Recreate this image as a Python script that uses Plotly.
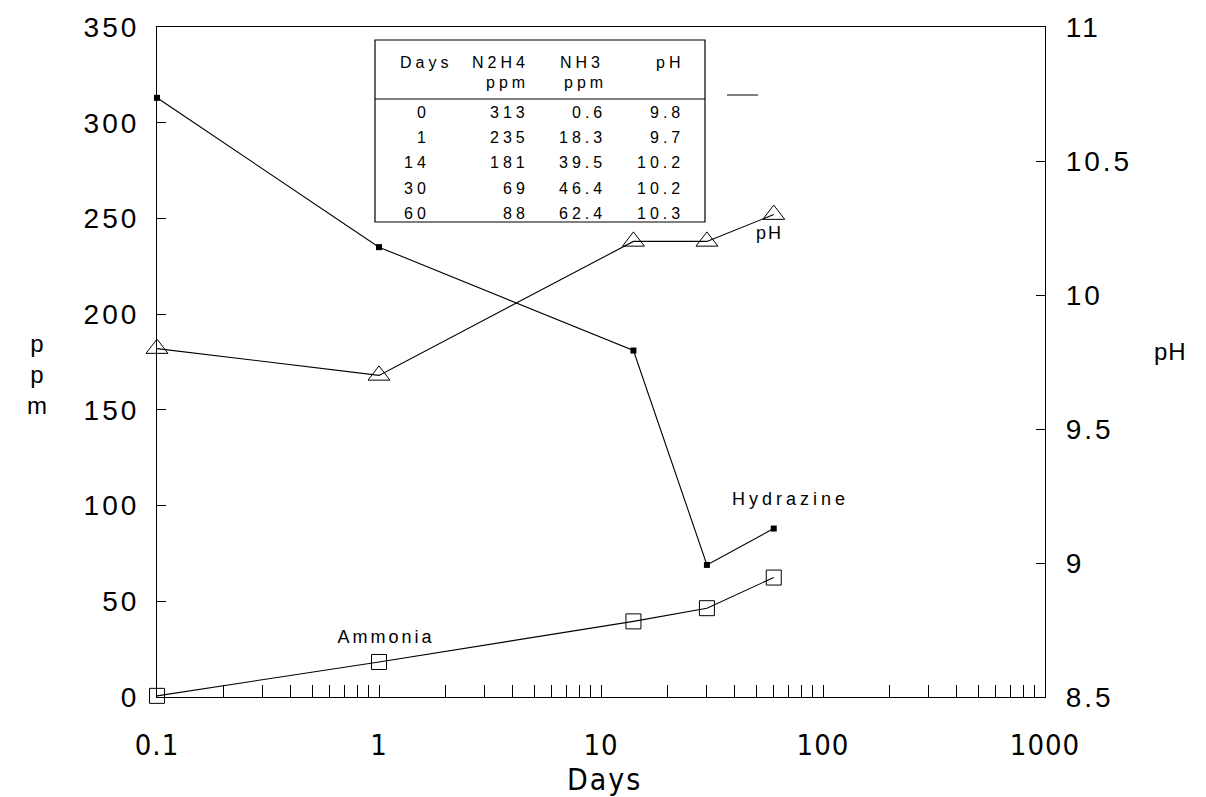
import json
import plotly.graph_objects as go

# ---------------- data ----------------
days_label = ["0", "1", "14", "30", "60"]
days_plot = [0.1, 1, 14, 30, 60]          # day 0 is drawn at 0.1 on the log axis
hydrazine_ppm = [313, 235, 181, 69, 88]
ammonia_ppm = [0.6, 18.3, 39.5, 46.4, 62.4]
ph_values = [9.8, 9.7, 10.2, 10.2, 10.3]

hydrazine_txt = ["313", "235", "181", "69", "88"]
ammonia_txt = ["0.6", "18.3", "39.5", "46.4", "62.4"]
ph_txt = ["9.8", "9.7", "10.2", "10.2", "10.3"]

x_major = [0.1, 1, 10, 100, 1000]
x_major_labels = ["0.1", "1", "10", "100", "1000"]
y_left_ticks = [0, 50, 100, 150, 200, 250, 300, 350]
y_left_labels = ["0", "50", "100", "150", "200", "250", "300", "350"]
y_right_ticks = [8.5, 9, 9.5, 10, 10.5, 11]
y_right_labels = ["8.5", "9", "9.5", "10", "10.5", "11"]

# ---------------- layout geometry ----------------
W, H = 1206, 797
L, R, T, B = 157, 1045, 27, 697


def px(x, y):
    return (x - L) / (R - L), (B - y) / (B - T)


# log ticks: every integer multiple inside each decade
tickvals, ticktext = [], []
for k in range(-1, 3):
    for m in range(1, 10):
        v = round(m * 10 ** k, 6)
        tickvals.append(v)
        ticktext.append("")
tickvals.append(1000)
ticktext.append("")
for v, lab in zip(x_major, x_major_labels):
    for i, tv in enumerate(tickvals):
        if abs(tv - v) < 1e-9:
            ticktext[i] = lab

SANS = "Liberation Sans, Arial, Helvetica, sans-serif"
NARROW = "Liberation Sans Narrow, Arial Narrow, DejaVu Sans Condensed, sans-serif"

fig = go.Figure()
fig.add_trace(go.Scatter(
    x=days_plot, y=hydrazine_ppm, mode="lines+markers", name="Hydrazine",
    line=dict(color="black", width=1.1),
    marker=dict(symbol="square", size=6, color="black"),
    cliponaxis=False))
fig.add_trace(go.Scatter(
    x=days_plot, y=ammonia_ppm, mode="lines+markers", name="Ammonia",
    line=dict(color="black", width=1.1),
    marker=dict(symbol="square-open", size=15, color="black", line=dict(width=1, color="black")),
    cliponaxis=False))
fig.add_trace(go.Scatter(
    x=days_plot, y=ph_values, mode="lines+markers", name="pH", yaxis="y2",
    line=dict(color="black", width=1.1),
    marker=dict(symbol="triangle-up-open", size=19, color="black", line=dict(width=1, color="black")),
    cliponaxis=False))

annotations = []
css_rules = []


def add_text(text, x, y, size, xanchor="center", ls=0, font=SANS):
    idx = len(annotations)
    # compensate trailing letter-spacing for right-anchored text
    xx = x + (ls if xanchor == "right" else 0)
    if xanchor == "center":
        xx = x + ls / 2
    ax, ay = px(xx, y)
    annotations.append(dict(
        text=text, x=ax, y=ay, xref="paper", yref="paper",
        xanchor=xanchor, yanchor="middle", align=xanchor if xanchor != "center" else "center",
        showarrow=False, font=dict(family=font, size=size, color="black")))
    if ls:
        css_rules.append('g.annotation[data-index="%d"] text{letter-spacing:%spx}' % (idx, ls))


# table
TS, TLS = 16, 4
add_text("Days", 398, 62, TS, "left", TLS)
add_text("N2H4", 527, 62, TS, "right", TLS)
add_text("NH3", 602, 62, TS, "right", TLS)
add_text("pH", 682, 62, TS, "right", TLS)
add_text("ppm", 527, 83, TS, "right", TLS)
add_text("ppm", 605, 83, TS, "right", TLS)
row_y = [112, 137, 162, 188, 213]
for i in range(len(days_label)):
    add_text(days_label[i], 428, row_y[i], TS, "right", TLS)
    add_text(hydrazine_txt[i], 527, row_y[i], TS, "right", TLS)
    add_text(ammonia_txt[i], 604, row_y[i], TS, "right", TLS)
    add_text(ph_txt[i], 682, row_y[i], TS, "right", TLS)

# series labels
add_text("Ammonia", 385, 637, 18, "center", 3)
add_text("Hydrazine", 788, 499, 18, "center", 4)
add_text("pH", 768, 233, 18, "center", 2)

# axis titles
add_text("p<br>p<br>m", 37, 374, 24, "center", 0)
add_text("pH", 1170, 352, 24, "center", 1)
add_text("Days", 603, 779, 30, "center", 2, NARROW)

shapes = []
x0, y0 = px(375, 40)
x1, y1 = px(705, 222)
shapes.append(dict(type="rect", xref="paper", yref="paper", x0=x0, y0=y1, x1=x1, y1=y0,
                   line=dict(color="black", width=1.2), fillcolor="white", layer="above"))
hx0, hy = px(375, 99)
hx1, _ = px(705, 99)
shapes.append(dict(type="line", xref="paper", yref="paper", x0=hx0, x1=hx1, y0=hy, y1=hy,
                   line=dict(color="black", width=1)))
sx0, sy = px(727, 95)
sx1, _ = px(758, 95)
shapes.append(dict(type="line", xref="paper", yref="paper", x0=sx0, x1=sx1, y0=sy, y1=sy,
                   line=dict(color="black", width=1)))

fig.update_layout(
    width=W, height=H,
    margin=dict(l=L, r=W - R, t=T, b=H - B, pad=0),
    paper_bgcolor="white", plot_bgcolor="white",
    showlegend=False,
    font=dict(family=SANS, color="black"),
    xaxis=dict(type="log", range=[-1, 3], tickmode="array", tickvals=tickvals, ticktext=ticktext,
               ticks="inside", ticklen=12, tickwidth=1, tickcolor="black",
               showline=True, linecolor="black", linewidth=1.2, mirror=True,
               showgrid=False, zeroline=False, ticklabelstandoff=22,
               tickfont=dict(family=NARROW, size=29, color="black")),
    yaxis=dict(range=[0, 350], tickmode="array", tickvals=y_left_ticks, ticktext=y_left_labels,
               ticks="inside", ticklen=9, tickwidth=1, tickcolor="black",
               showline=True, linecolor="black", linewidth=1.2,
               showgrid=False, zeroline=False, ticklabelstandoff=11,
               tickfont=dict(family=SANS, size=28, color="black")),
    yaxis2=dict(range=[8.5, 11], overlaying="y", side="right", tickmode="array",
                tickvals=y_right_ticks, ticktext=y_right_labels,
                ticks="inside", ticklen=9, tickwidth=1, tickcolor="black",
                showline=True, linecolor="black", linewidth=1.2,
                showgrid=False, zeroline=False, ticklabelstandoff=14,
                tickfont=dict(family=SANS, size=28, color="black")),
    annotations=annotations,
    shapes=shapes,
)

css_rules.append(".ytick text,.y2tick text{letter-spacing:3px}")
css_rules.append(".xtick text{letter-spacing:1px}")
css = "".join(css_rules)
post = "var s=document.createElement('style');s.textContent=%s;document.head.appendChild(s);" % json.dumps(css)

fig.write_html("out.html", post_script=post)
